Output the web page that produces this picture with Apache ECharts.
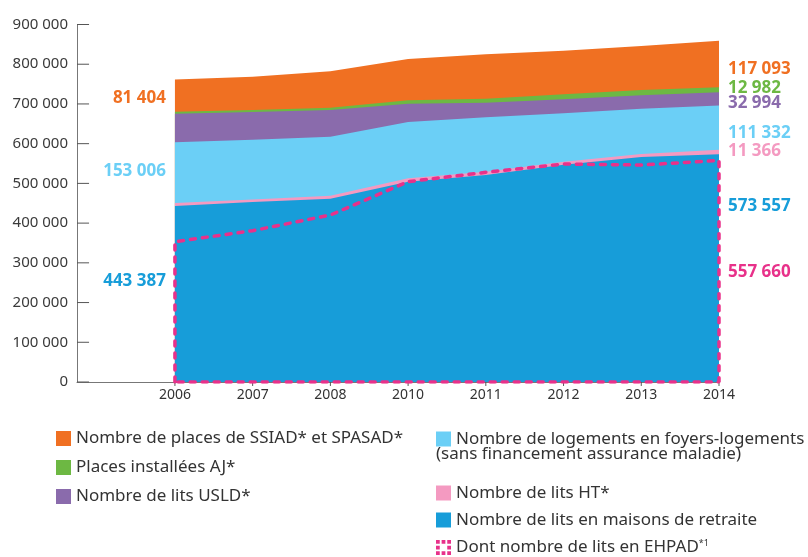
<!DOCTYPE html>
<html>
<head>
<meta charset="utf-8">
<script src="https://cdn.jsdelivr.net/npm/echarts@6/dist/echarts.min.js"></script>
<style>
    html, body { margin: 0; padding: 0; background: #fff; }
    #chart { width: 808px; height: 557px; }
</style>
</head>
<body>
<div id="chart"></div>
<script>
    // années (2009 absente)
    var years = ['2006', '2007', '2008', '2010', '2011', '2012', '2013', '2014'];
    var yTickLabels = ['0', '100 000', '200 000', '300 000', '400 000', '500 000', '600 000', '700 000', '800 000', '900 000'];

    // valeurs
    var maisons = [443387, 453000, 461500, 504300, 521100, 547000, 566400, 573557];
    var litsHT = [7200, 6500, 7500, 8500, 8300, 7600, 7600, 11366];
    var foyers = [153006, 150500, 148500, 141800, 137000, 121800, 114000, 111332];
    var usld = [71800, 69700, 67300, 46000, 36700, 35300, 33800, 32994];
    var aj = [5000, 5100, 5700, 8600, 10000, 12600, 13300, 12982];
    var ssiad = [81404, 83800, 91700, 104000, 111900, 109700, 110800, 117093];
    var ehpad = [353200, 380900, 420400, 504300, 527900, 548800, 546300, 557660];

    var names = {
        ssiad: 'Nombre de places de SSIAD* et SPASAD*',
        aj: 'Places installées AJ*',
        usld: 'Nombre de lits USLD*',
        foyers: 'Nombre de logements en foyers-logements',
        ht: 'Nombre de lits HT*',
        maisons: 'Nombre de lits en maisons de retraite',
        ehpad: 'Dont nombre de lits en EHPAD'
    };
    var colors = {
        ssiad: '#F07022',
        aj: '#6DB843',
        usld: '#8A6BAC',
        foyers: '#6BCFF6',
        ht: '#F49AC1',
        maisons: '#179DD9',
        ehpad: '#E8318A'
    };

    function fmt(n) {
        return String(n).replace(/\B(?=(\d{3})+(?!\d))/g, ' ');
    }

    var xMin = -1.26;
    var xTicks = years.map(function (y, i) { return i; });
    var yTicks = yTickLabels.map(function (t, i) { return i * 100000; });

    // empilement fait à la main (axe x en valeur)
    var layers = [maisons, litsHT, foyers, usld, aj, ssiad];
    var keys = ['maisons', 'ht', 'foyers', 'usld', 'aj', 'ssiad'];
    var cum = [];
    layers.forEach(function (arr, k) {
        cum.push(arr.map(function (v, i) {
            return v + (k > 0 ? cum[k - 1][i] : 0);
        }));
    });

    // décalage vertical des étiquettes (gauche = 2006, droite = 2014)
    var leftOffset = {ssiad: 19, foyers: 29, maisons: 75};
    var rightOffset = {ssiad: 28, aj: 1, usld: 11, foyers: 28, ht: 2, maisons: 52};

    var labelBase = {
        show: true,
        fontFamily: 'Noto Sans',
        fontWeight: 'bold',
        fontSize: 17,
        distance: 9
    };

    function areaSeries(k) {
        var key = keys[k];
        var raw = layers[k];
        var data = cum[k].map(function (v, i) {
            var item = {value: [i, v]};
            if (i === 0 && leftOffset[key] !== undefined) {
                item.label = Object.assign({}, labelBase, {
                    position: 'left', color: colors[key],
                    offset: [0, leftOffset[key]],
                    formatter: fmt(raw[0])
                });
            }
            if (i === raw.length - 1) {
                item.label = Object.assign({}, labelBase, {
                    position: 'right', color: colors[key],
                    offset: [0, rightOffset[key]],
                    formatter: fmt(raw[i])
                });
            }
            return item;
        });
        return {
            name: names[key],
            type: 'line',
            data: data,
            symbol: 'circle',
            symbolSize: 0,
            showSymbol: true,
            lineStyle: {width: 0},
            itemStyle: {color: colors[key]},
            areaStyle: {color: colors[key], opacity: 1},
            label: {show: false},
            silent: true
        };
    }

    var series = [];
    for (var k = layers.length - 1; k >= 0; k--) {
        series.push(areaSeries(k));
    }

    // contour pointillé EHPAD
    var last = ehpad.length - 1;
    var ehpadData = [{value: [0, 0]}];
    ehpad.forEach(function (v, i) {
        var item = {value: [i, v]};
        if (i === last) {
            item.label = Object.assign({}, labelBase, {
                position: 'right', color: colors.ehpad,
                offset: [0, 112],
                formatter: fmt(v)
            });
        }
        ehpadData.push(item);
    });
    ehpadData.push({value: [last, 0]});
    ehpadData.push({value: [0, 0]});

    series.push({
        name: names.ehpad,
        type: 'line',
        data: ehpadData,
        symbol: 'circle',
        symbolSize: 0,
        showSymbol: true,
        itemStyle: {color: colors.ehpad},
        lineStyle: {color: colors.ehpad, width: 3.5, type: [5, 7], cap: 'round'},
        label: {show: false},
        z: 5,
        silent: true
    });

    // graduations dessinées comme segments (axe y : vers l'intérieur, axe x : vers le bas)
    var yTickLen = 0.155;   // ~12 px en unités de l'axe x
    var xTickLen = 10000;   // ~4 px en unités de l'axe y
    var tickData = [];
    yTicks.forEach(function (v) {
        tickData.push([xMin, v], [xMin + yTickLen, v], ['-', '-']);
    });
    xTicks.forEach(function (i) {
        tickData.push([i, 0], [i, -xTickLen], ['-', '-']);
    });
    series.push({
        type: 'line',
        data: tickData,
        showSymbol: false,
        symbol: 'none',
        connectNulls: false,
        clip: false,
        silent: true,
        z: 1,
        lineStyle: {color: '#555', width: 1}
    });

    var legendText = {fontFamily: 'Noto Sans', fontSize: 17, color: '#333'};
    var dotted = 'path://M0,0h3v3h-3z M4.5,0h3v3h-3z M9,0h3v3h-3z M0,4.5h3v3h-3z M9,4.5h3v3h-3z M0,9h3v3h-3z M4.5,9h3v3h-3z M9,9h3v3h-3z';

    var option = {
        animation: false,
        grid: {left: 77, right: 89, top: 24.5, bottom: 175},
        xAxis: {
            type: 'value',
            min: xMin,
            max: 7,
            splitLine: {show: false},
            axisLine: {onZero: false, lineStyle: {color: '#777', width: 1}},
            axisTick: {show: false},
            axisLabel: {
                customValues: xTicks,
                formatter: function (v) { return years[Math.round(v)]; },
                fontFamily: 'Noto Sans',
                fontSize: 14,
                color: '#333',
                margin: 6
            }
        },
        yAxis: {
            type: 'value',
            min: 0,
            max: 900000,
            interval: 100000,
            splitLine: {show: false},
            axisLine: {show: true, onZero: false, lineStyle: {color: '#777', width: 1}},
            axisTick: {show: false},
            axisLabel: {
                formatter: function (v) { return yTickLabels[Math.round(v / 100000)]; },
                fontFamily: 'Noto Sans',
                fontSize: 15,
                color: '#3a3a3a',
                margin: 9
            }
        },
        legend: [
            {
                orient: 'vertical',
                left: 51,
                top: 425,
                height: 110,
                itemWidth: 15,
                itemHeight: 15,
                itemGap: 12,
                selectedMode: false,
                textStyle: legendText,
                data: [
                    {name: names.ssiad, icon: 'rect'},
                    {name: names.aj, icon: 'rect'},
                    {name: names.usld, icon: 'rect'}
                ]
            },
            {
                orient: 'vertical',
                left: 431,
                top: 425.5,
                itemWidth: 15,
                itemHeight: 15,
                selectedMode: false,
                textStyle: legendText,
                data: [{name: names.foyers, icon: 'rect'}]
            },
            {
                orient: 'vertical',
                left: 431,
                top: 479.5,
                height: 110,
                itemWidth: 15,
                itemHeight: 15,
                itemGap: 10,
                selectedMode: false,
                textStyle: Object.assign({}, legendText, {
                    rich: {
                        sup: {fontFamily: 'Noto Sans', fontSize: 9, color: '#333', verticalAlign: 'top', padding: [0, 0, 9, 0]}
                    }
                }),
                formatter: function (name) {
                    return name === names.ehpad ? name + '{sup|*1}' : name;
                },
                data: [
                    {name: names.ht, icon: 'rect'},
                    {name: names.maisons, icon: 'rect'},
                    {name: names.ehpad, icon: dotted, itemStyle: {borderWidth: 0, color: colors.ehpad}}
                ]
            }
        ],
        graphic: [
            {
                type: 'text',
                left: 436,
                top: 446,
                style: {
                    text: '(sans financement assurance maladie)',
                    fontFamily: 'Noto Sans',
                    fontSize: 17,
                    fill: '#333'
                }
            }
        ],
        series: series
    };

    var chart = echarts.init(document.getElementById('chart'));
    chart.setOption(option);
</script>
</body>
</html>
